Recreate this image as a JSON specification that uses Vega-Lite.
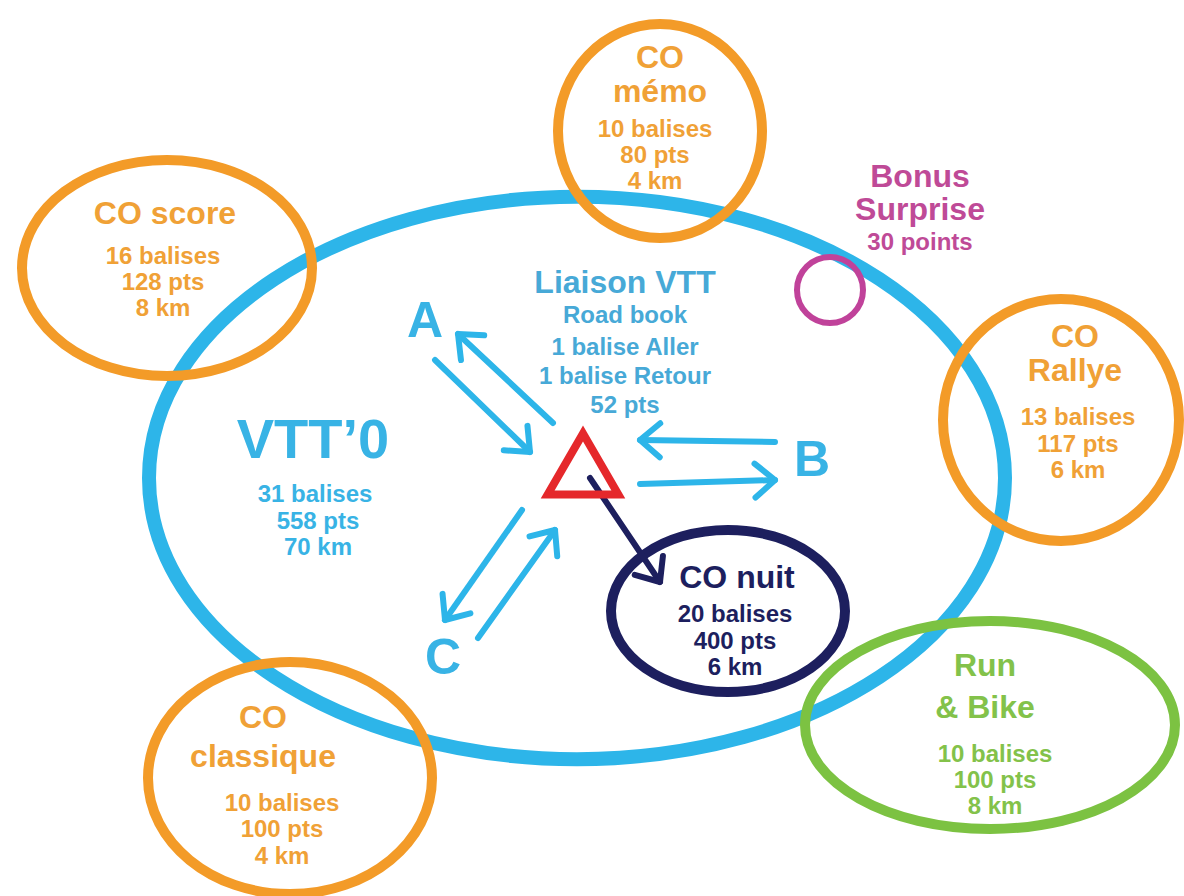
{
  "$schema": "https://vega.github.io/schema/vega-lite/v6.json",
  "width": 1184,
  "height": 896,
  "autosize": {"type": "none"},
  "padding": 0,
  "background": "white",
  "config": {"view": {"stroke": null}, "text": {"font": "Liberation Sans", "fontWeight": "bold"}},
  "datasets": {
    "rings": [
      {"name": "VTT'0", "x": 577, "y": 478, "group": "blue"},
      {"name": "CO mémo", "x": 660, "y": 131, "group": "orange"},
      {"name": "CO score", "x": 167, "y": 268, "group": "orange"},
      {"name": "CO Rallye", "x": 1061, "y": 420, "group": "orange"},
      {"name": "CO classique", "x": 290, "y": 778, "group": "orange"},
      {"name": "Run & Bike", "x": 990, "y": 725, "group": "green"},
      {"name": "CO nuit", "x": 728, "y": 611, "group": "navy"},
      {"name": "Bonus Surprise", "x": 830, "y": 290, "group": "magenta"}
    ],
    "arrows": [
      {"link": "A retour", "x": 553, "y": 423, "x2": 458, "y2": 334, "group": "blue"},
      {"link": "A aller", "x": 435, "y": 360, "x2": 530, "y2": 452, "group": "blue"},
      {"link": "B retour", "x": 775, "y": 442, "x2": 640, "y2": 440, "group": "blue"},
      {"link": "B aller", "x": 640, "y": 484, "x2": 775, "y2": 480, "group": "blue"},
      {"link": "C aller", "x": 522, "y": 510, "x2": 445, "y2": 620, "group": "blue"},
      {"link": "C retour", "x": 478, "y": 638, "x2": 555, "y2": 530, "group": "blue"},
      {"link": "CO nuit", "x": 590, "y": 478, "x2": 660, "y2": 582, "group": "navy"}
    ],
    "base": [
      {"name": "Départ", "x": 583, "y": 464, "group": "red"}
    ],
    "labels": [
      {"text": "CO", "x": 660, "y": 58, "group": "orange_t", "level": "head"},
      {"text": "mémo", "x": 660, "y": 92, "group": "orange_t", "level": "head"},
      {"text": "10 balises", "x": 655, "y": 130, "group": "orange_t", "level": "body"},
      {"text": "80 pts", "x": 655, "y": 156, "group": "orange_t", "level": "body"},
      {"text": "4 km", "x": 655, "y": 182, "group": "orange_t", "level": "body"},
      {"text": "CO score", "x": 165, "y": 214, "group": "orange_t", "level": "head"},
      {"text": "16 balises", "x": 163, "y": 257, "group": "orange_t", "level": "body"},
      {"text": "128 pts", "x": 163, "y": 283, "group": "orange_t", "level": "body"},
      {"text": "8 km", "x": 163, "y": 309, "group": "orange_t", "level": "body"},
      {"text": "Bonus", "x": 920, "y": 177, "group": "magenta_t", "level": "head"},
      {"text": "Surprise", "x": 920, "y": 210, "group": "magenta_t", "level": "head"},
      {"text": "30 points", "x": 920, "y": 243, "group": "magenta_t", "level": "body"},
      {"text": "Liaison VTT", "x": 625, "y": 283, "group": "liaison", "level": "head"},
      {"text": "Road book", "x": 625, "y": 316, "group": "liaison", "level": "body"},
      {"text": "1 balise Aller", "x": 625, "y": 348, "group": "liaison", "level": "body"},
      {"text": "1 balise Retour", "x": 625, "y": 377, "group": "liaison", "level": "body"},
      {"text": "52 pts", "x": 625, "y": 406, "group": "liaison", "level": "body"},
      {"text": "A", "x": 425, "y": 322, "group": "blue_t", "level": "letter"},
      {"text": "B", "x": 812, "y": 461, "group": "blue_t", "level": "letter"},
      {"text": "C", "x": 443, "y": 659, "group": "blue_t", "level": "letter"},
      {"text": "VTT’0", "x": 313, "y": 441, "group": "blue_t", "level": "title"},
      {"text": "31 balises", "x": 315, "y": 495, "group": "blue_t", "level": "body"},
      {"text": "558 pts", "x": 318, "y": 522, "group": "blue_t", "level": "body"},
      {"text": "70 km", "x": 318, "y": 548, "group": "blue_t", "level": "body"},
      {"text": "CO", "x": 1075, "y": 337, "group": "orange_t", "level": "head"},
      {"text": "Rallye", "x": 1075, "y": 371, "group": "orange_t", "level": "head"},
      {"text": "13 balises", "x": 1078, "y": 418, "group": "orange_t", "level": "body"},
      {"text": "117 pts", "x": 1078, "y": 445, "group": "orange_t", "level": "body"},
      {"text": "6 km", "x": 1078, "y": 471, "group": "orange_t", "level": "body"},
      {"text": "CO nuit", "x": 737, "y": 578, "group": "navy", "level": "head"},
      {"text": "20 balises", "x": 735, "y": 615, "group": "navy", "level": "body"},
      {"text": "400 pts", "x": 735, "y": 642, "group": "navy", "level": "body"},
      {"text": "6 km", "x": 735, "y": 668, "group": "navy", "level": "body"},
      {"text": "Run", "x": 985, "y": 666, "group": "green_t", "level": "head"},
      {"text": "& Bike", "x": 985, "y": 708, "group": "green_t", "level": "head"},
      {"text": "10 balises", "x": 995, "y": 755, "group": "green_t", "level": "body"},
      {"text": "100 pts", "x": 995, "y": 781, "group": "green_t", "level": "body"},
      {"text": "8 km", "x": 995, "y": 807, "group": "green_t", "level": "body"},
      {"text": "CO", "x": 263, "y": 718, "group": "orange_t", "level": "head"},
      {"text": "classique", "x": 263, "y": 757, "group": "orange_t", "level": "head"},
      {"text": "10 balises", "x": 282, "y": 804, "group": "orange_t", "level": "body"},
      {"text": "100 pts", "x": 282, "y": 830, "group": "orange_t", "level": "body"},
      {"text": "4 km", "x": 282, "y": 857, "group": "orange_t", "level": "body"}
    ]
  },
  "encoding": {
    "x": {"field": "x", "type": "quantitative", "scale": {"domain": [0, 1184], "nice": false, "zero": false}, "axis": null},
    "y": {"field": "y", "type": "quantitative", "scale": {"domain": [0, 896], "nice": false, "zero": false, "reverse": true}, "axis": null},
    "color": {
      "field": "group", "type": "nominal", "legend": null,
      "scale": {
        "domain": ["blue", "orange", "green", "navy", "magenta", "red", "orange_t", "blue_t", "liaison", "green_t", "magenta_t"],
        "range": ["#2DB5E9", "#F39B28", "#7CC242", "#1D1F5E", "#C0429A", "#E5282B", "#F0A136", "#38B3E5", "#47A9D7", "#83C24A", "#BF4A97"]
      }
    }
  },
  "layer": [
    {
      "data": {"name": "rings"},
      "mark": {"type": "point", "filled": false, "opacity": 1},
      "encoding": {
        "shape": {
          "field": "name", "type": "nominal", "legend": null,
          "scale": {
            "domain": ["VTT'0", "CO mémo", "CO score", "CO Rallye", "CO classique", "Run & Bike", "CO nuit", "Bonus Surprise"],
            "range": [
              "M -1 0 A 1 0.657 0 1 1 1 0 A 1 0.657 0 1 1 -1 0 Z",
              "M -1 0 A 1 1.049 0 1 1 1 0 A 1 1.049 0 1 1 -1 0 Z",
              "M -1 0 A 1 0.745 0 1 1 1 0 A 1 0.745 0 1 1 -1 0 Z",
              "M -1 0 A 1 1.025 0 1 1 1 0 A 1 1.025 0 1 1 -1 0 Z",
              "M -1 0 A 1 0.817 0 1 1 1 0 A 1 0.817 0 1 1 -1 0 Z",
              "M -1 0 A 1 0.562 0 1 1 1 0 A 1 0.562 0 1 1 -1 0 Z",
              "M -1 0 A 1 0.692 0 1 1 1 0 A 1 0.692 0 1 1 -1 0 Z",
              "M -1 0 A 1 1 0 1 1 1 0 A 1 1 0 1 1 -1 0 Z"
            ]
          }
        },
        "size": {
          "field": "name", "type": "nominal", "legend": null,
          "scale": {
            "type": "ordinal",
            "domain": ["VTT'0", "CO mémo", "CO score", "CO Rallye", "CO classique", "Run & Bike", "CO nuit", "Bonus Surprise"],
            "range": [732736, 41616, 84100, 55696, 80656, 136900, 54756, 4356]
          }
        },
        "strokeWidth": {
          "field": "name", "type": "nominal", "legend": null,
          "scale": {
            "type": "ordinal",
            "domain": ["VTT'0", "CO mémo", "CO score", "CO Rallye", "CO classique", "Run & Bike", "CO nuit", "Bonus Surprise"],
            "range": [14, 10, 10, 10, 10, 10, 10, 6]
          }
        }
      }
    },
    {
      "data": {"name": "arrows"},
      "mark": {"type": "rule", "strokeWidth": 6, "strokeCap": "round"},
      "encoding": {
        "x2": {"field": "x2"},
        "y2": {"field": "y2"}
      }
    },
    {
      "data": {"name": "arrows"},
      "transform": [{"calculate": "atan2(datum.y2 - datum.y, datum.x2 - datum.x) * 180 / PI", "as": "heading"}],
      "mark": {"type": "point", "filled": false, "opacity": 1, "shape": "M -1 -0.85 L 0 0 L -1 0.85", "size": 1600, "strokeWidth": 6, "strokeCap": "round", "strokeJoin": "round"},
      "encoding": {
        "x": {"field": "x2", "type": "quantitative", "scale": {"domain": [0, 1184], "nice": false, "zero": false}, "axis": null},
        "y": {"field": "y2", "type": "quantitative", "scale": {"domain": [0, 896], "nice": false, "zero": false, "reverse": true}, "axis": null},
        "angle": {"field": "heading", "type": "quantitative", "scale": null}
      }
    },
    {
      "data": {"name": "base"},
      "mark": {"type": "point", "filled": false, "opacity": 1, "shape": "triangle-up", "size": 5000, "strokeWidth": 8, "strokeJoin": "miter"}
    },
    {
      "data": {"name": "labels"},
      "transform": [{"filter": "datum.level === 'title'"}],
      "mark": {"type": "text", "fontSize": 56, "baseline": "middle", "align": "center"},
      "encoding": {"text": {"field": "text"}}
    },
    {
      "data": {"name": "labels"},
      "transform": [{"filter": "datum.level === 'letter'"}],
      "mark": {"type": "text", "fontSize": 50, "baseline": "middle", "align": "center"},
      "encoding": {"text": {"field": "text"}}
    },
    {
      "data": {"name": "labels"},
      "transform": [{"filter": "datum.level === 'head'"}],
      "mark": {"type": "text", "fontSize": 32, "baseline": "middle", "align": "center"},
      "encoding": {"text": {"field": "text"}}
    },
    {
      "data": {"name": "labels"},
      "transform": [{"filter": "datum.level === 'body'"}],
      "mark": {"type": "text", "fontSize": 24, "baseline": "middle", "align": "center"},
      "encoding": {"text": {"field": "text"}}
    }
  ]
}
